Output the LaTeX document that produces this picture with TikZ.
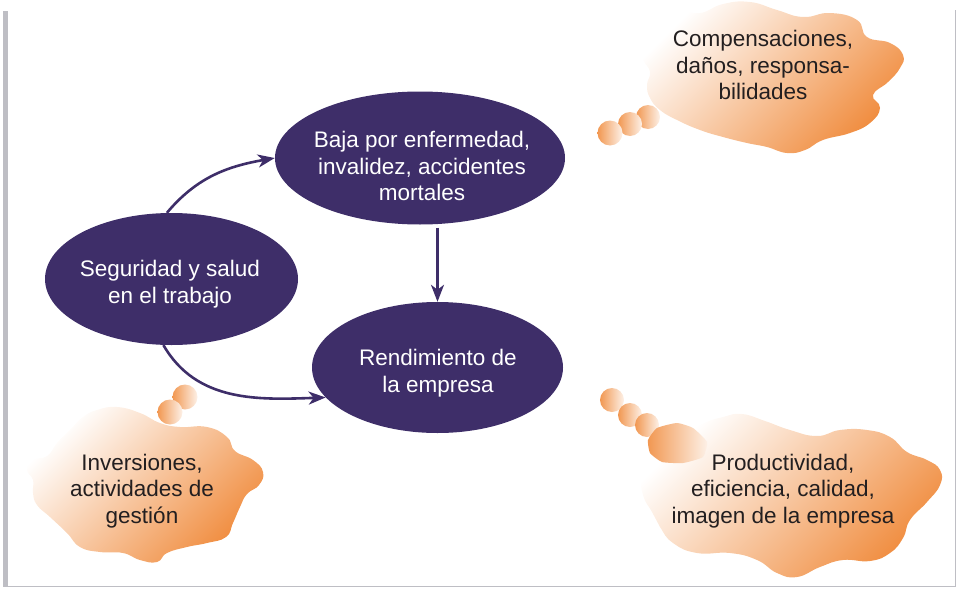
\documentclass[tikz,border=0pt]{standalone}
\usepackage{fontspec}
\setmainfont{Liberation Sans}
\usetikzlibrary{shapes.geometric,arrows.meta}
\definecolor{ovalpurple}{RGB}{62,46,105}
\definecolor{cloudorange}{RGB}{240,140,62}
\definecolor{framegray}{RGB}{190,190,196}
\definecolor{textgray}{RGB}{35,31,32}
\begin{document}
\begin{tikzpicture}[x=1pt,y=-1pt]
    \tikzstyle{every node}+=[inner sep=0pt, font=\fontsize{22.5}{26.5}\selectfont, align=center]
    \tikzstyle{oval}=[ellipse, fill=ovalpurple]
    \tikzstyle{ovaltext}=[text=white]
    \tikzstyle{cloudtext}=[text=textgray]
    \tikzstyle{cloud}=[top color=white, bottom color=cloudorange, shading angle=45]
    \tikzstyle{puff}=[left color=cloudorange!90, right color=cloudorange!12]
    \tikzstyle{link}=[ovalpurple, line width=2.6pt, -{Stealth[length=17pt,width=13pt,inset=5pt]}]
    \useasboundingbox (0,0) rectangle (956,589);
    % frame
    \fill [framegray] (3,11) rectangle (8,587);
    \draw [framegray, line width=1pt] (3,586.5) -- (955.5,586.5) -- (955.5,10);
    % clouds
    \shade [cloud] plot [smooth cycle, tension=0.8] coordinates {(637,45) (641,30) (657,17) (677,10) (700,13) (723,4) (750,2) (777,10) (803,17) (830,13) (857,20) (867,37) (890,43) (903,55) (900,68) (888,82) (873,95) (880,108) (870,123) (850,133) (823,140) (805,150) (787,153) (767,147) (747,143) (723,137) (700,130) (677,120) (660,110) (650,98) (647,85) (650,72) (643,60)};
    \shade [cloud] plot [smooth cycle, tension=0.8] coordinates {(640,470) (645,458) (665,445) (700,425) (723,417) (742,414) (765,421) (790,430) (817,436) (840,430) (867,430) (890,437) (907,452) (927,460) (940,470) (940,485) (927,502) (910,520) (903,538) (890,553) (870,561) (843,560) (820,567) (797,577) (777,573) (757,560) (730,553) (697,553) (673,543) (660,527) (652,512) (643,495)};
    \shade [cloud] plot [smooth cycle, tension=0.8] coordinates {(83,417) (97,410) (117,407) (140,413) (160,423) (180,427) (207,427) (227,437) (235,451) (253,460) (263,472) (259,485) (247,494) (240,507) (233,523) (226,537) (207,543) (187,547) (167,553) (157,562) (140,560) (123,553) (100,552) (80,547) (67,533) (50,517) (37,505) (33,493) (33,480) (27,470) (32,460) (47,456) (57,443) (70,430)};
    % thought bubbles
    \shade [puff] (648,117) circle (12);
    \shade [puff] (630,124) circle (12);
    \shade [puff] (610,133) circle (12.5);
    \shade [puff] (612,400) circle (12);
    \shade [puff] (630,415) circle (12);
    \shade [puff] (647,425) circle (12);
    \shade [puff] plot [smooth cycle, tension=0.3] coordinates {(648,440) (657,428) (677,423) (693,428) (707,442) (703,457) (683,463) (662,462) (650,453)};
    \shade [puff] (185,397) circle (12.5);
    \shade [puff] (170,412) circle (12.5);
    % ovals
    \node [oval, minimum width=290pt, minimum height=133pt] (baja) at (420,158) {};
    \node [oval, minimum width=253pt, minimum height=132pt] (seg) at (171.5,279) {};
    \node [oval, minimum width=251pt, minimum height=131pt] (rend) at (437.5,367.5) {};
    \node [ovaltext] (bajatext) at (422,166) {Baja por enfermedad,\\invalidez, accidentes\\mortales};
    \node [ovaltext] (segtext) at (170,284) {Seguridad y salud\\en el trabajo};
    \node [ovaltext] (rendtext) at (438,373) {Rendimiento de\\la empresa};
    % cloud texts
    \node [cloudtext] (comptext) at (763,65) {Compensaciones,\\daños, responsa-\\bilidades};
    \node [cloudtext] (prodtext) at (783,491) {Productividad,\\eficiencia, calidad,\\imagen de la empresa};
    \node [cloudtext] (invtext) at (142,491) {Inversiones,\\actividades de\\gestión};
    % links
    \draw [link] (seg.94) to [out=50,in=190] (baja.west);
    \draw [link] (seg.263) to [out=-60,in=182] (rend.195);
    \draw [link, shorten <=3pt] (baja.south -| rend.north) -- (rend.north);
\end{tikzpicture}
\end{document}
